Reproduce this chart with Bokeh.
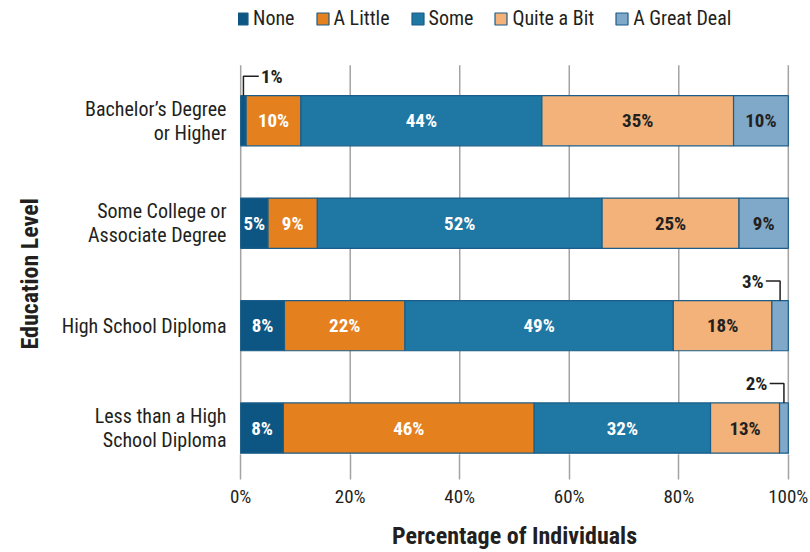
from bokeh.plotting import figure
from bokeh.models import (Range1d, FixedTicker, Legend, LegendItem, ColumnDataSource,
                          PrintfTickFormatter, Title)
from bokeh.core.properties import value
from bokeh.embed import file_html
from bokeh.resources import INLINE

# ---------------- data ----------------
levels = ["Bachelor\u2019s Degree\nor Higher",
          "Some College or\nAssociate Degree",
          "High School Diploma",
          "Less than a High\nSchool Diploma"]
responses = ["None", "A Little", "Some", "Quite a Bit", "A Great Deal"]
none_pct = [1, 5, 8, 7.8]
little_pct = [10, 9, 22, 45.8]
some_pct = [44, 52, 49, 32.2]
quite_pct = [35, 25, 18, 12.6]
great_pct = [10, 9, 3, 1.6]
x_ticks = [0, 20, 40, 60, 80, 100]

# ---------------- style ----------------
FONT = "Roboto Condensed"
TXT = "#231f20"
colors = ["#0d5683", "#e5801f", "#1f77a3", "#f2b27a", "#7fa8c9"]
label_colors = ["white", "white", "white", TXT, TXT]
outline = "#1b5d88"
grid_col = "#a3a3a3"
bar_h = 0.49
y_lo, y_hi = -0.258, 4.174      # frame range (top part holds the legend)
grid_top = 3.541                # grid lines stop below the legend

series = [none_pct, little_pct, some_pct, quite_pct, great_pct]
keys = ["none", "little", "some", "quite", "great"]
ypos = [3, 2, 1, 0]

src = ColumnDataSource(dict(y=ypos, **{k: s for k, s in zip(keys, series)}))

p = figure(width=810, height=552, output_backend="svg", toolbar_location=None,
           x_range=Range1d(-0.4, 100.4), y_range=Range1d(y_lo, y_hi),
           min_border_left=238, min_border_right=20, min_border_top=0,
           min_border_bottom=97)
p.outline_line_color = None
p.background_fill_color = "white"
p.xgrid.grid_line_color = None
p.ygrid.grid_line_color = None

# vertical grid lines at the tick positions
p.segment(x0=x_ticks, y0=[y_lo] * len(x_ticks), x1=x_ticks, y1=[grid_top] * len(x_ticks),
          line_color=grid_col, line_width=1.5)

renderers = p.hbar_stack(keys, y="y", height=bar_h, source=src, color=colors,
                         line_color=outline, line_width=1.2)

# segment labels and callouts
tx, ty, tt, tc = [], [], [], []
cx, cy, ct, calign = [], [], [], []
lxs, lys = [], []
for r, yv in enumerate(ypos):
    start = 0.0
    for i, s in enumerate(series):
        v = s[r]
        mid = start + v / 2
        lab = f"{round(v)}%"
        if v >= 4:
            tx.append(mid); ty.append(yv); tt.append(lab); tc.append(label_colors[i])
        else:
            top = yv + bar_h / 2
            rise = 0.19
            arm = 2.8 if mid < 50 else -2.6
            lxs.append([mid, mid, mid + arm])
            lys.append([top, top + rise, top + rise])
            cx.append(mid + arm + (0.4 if arm > 0 else -0.4))
            cy.append(top + rise)
            ct.append(lab)
            calign.append("left" if arm > 0 else "right")
        start += v

p.text(x="x", y="y", text="t", source=ColumnDataSource(dict(x=tx, y=ty, t=tt, c=tc)),
       text_color="c", text_align="center", text_baseline="middle",
       text_font=value(FONT), text_font_size="19px", text_font_style="bold")
p.multi_line(xs=lxs, ys=lys, line_color=TXT, line_width=1.5)
p.text(x="x", y="y", text="t", text_align="a",
       source=ColumnDataSource(dict(x=cx, y=cy, t=ct, a=calign)),
       text_color=TXT, text_baseline="middle",
       text_font=value(FONT), text_font_size="19px", text_font_style="bold")

# axes
xa = p.xaxis[0]
xa.ticker = FixedTicker(ticks=x_ticks)
xa.formatter = PrintfTickFormatter(format="%d%%")
xa.axis_line_color = None
xa.major_tick_in = 0
xa.major_tick_out = 25
xa.major_tick_line_color = grid_col
xa.major_tick_line_width = 1.5
xa.minor_tick_line_color = None
xa.major_label_standoff = 5
xa.major_label_text_font = FONT
xa.major_label_text_font_size = "19px"
xa.major_label_text_color = TXT
xa.axis_label = "Percentage of Individuals"
xa.axis_label_text_font = FONT
xa.axis_label_text_font_size = "24px"
xa.axis_label_text_font_style = "bold"
xa.axis_label_text_color = TXT
xa.axis_label_standoff = 11

ya = p.yaxis[0]
ya.ticker = FixedTicker(ticks=ypos)
ya.major_label_overrides = {yv: lab for yv, lab in zip(ypos, levels)}
ya.axis_line_color = None
ya.major_tick_line_color = None
ya.minor_tick_line_color = None
ya.major_label_standoff = 6
ya.major_label_text_font = FONT
ya.major_label_text_font_size = "20px"
ya.major_label_text_color = TXT
ya.major_label_text_line_height = 1.02

# y-axis title, placed level with the bar area
ytitle = Title(text="Education Level", align="left", offset=105, vertical_align="top",
               standoff=26, text_font=FONT, text_font_size="24px", text_font_style="bold",
               text_color=TXT)
p.add_layout(ytitle, "left")

legend = Legend(items=[LegendItem(label=lab, renderers=[r]) for lab, r in zip(responses, renderers)],
                location=(-4, 424), orientation="horizontal", padding=4, margin=0, spacing=20,
                label_standoff=4, glyph_width=15, glyph_height=15,
                border_line_color=None, background_fill_alpha=0,
                label_text_font=FONT, label_text_font_size="20px", label_text_color=TXT)
p.add_layout(legend)

open("out.html", "w").write(file_html(p, INLINE))
